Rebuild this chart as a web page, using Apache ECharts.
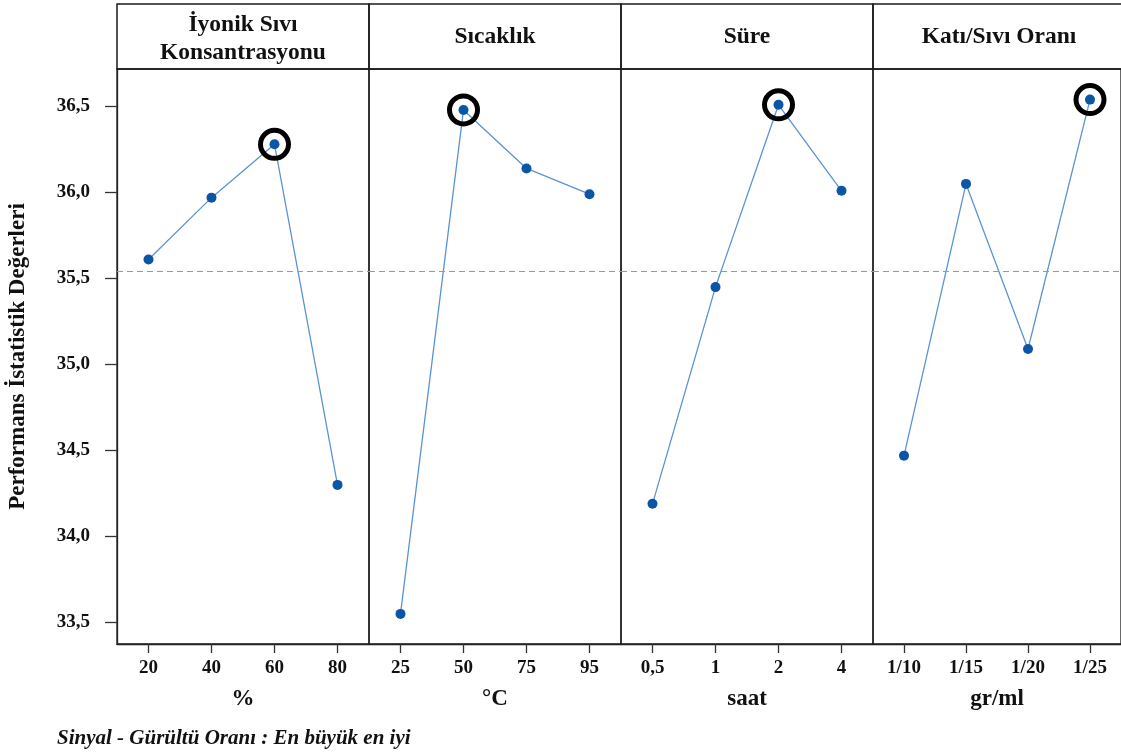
<!DOCTYPE html>
<html><head><meta charset="utf-8">
<style>html,body{margin:0;padding:0;background:#fff}#c{width:1121px;height:754px}</style>
<script src="https://cdn.jsdelivr.net/npm/echarts@6/dist/echarts.min.js"></script>
</head><body><div id="c"></div>
<script>
// ---- data ----
const panelTitles = ['İyonik Sıvı\nKonsantrasyonu', 'Sıcaklık', 'Süre', 'Katı/Sıvı Oranı'];
const axisNames = ['%', '°C', 'saat', 'gr/ml'];
const catIonic = ['20', '40', '60', '80'];
const catTemp = ['25', '50', '75', '95'];
const catTime = ['0,5', '1', '2', '4'];
const catRatio = ['1/10', '1/15', '1/20', '1/25'];
const snIonic = [35.61, 35.97, 36.28, 34.30];
const snTemp = [33.55, 36.48, 36.14, 35.99];
const snTime = [34.19, 35.45, 36.51, 36.01];
const snRatio = [34.47, 36.05, 35.09, 36.54];
const yTicks = [33.5, 34.0, 34.5, 35.0, 35.5, 36.0, 36.5];
const yTickLabels = ['33,5', '34,0', '34,5', '35,0', '35,5', '36,0', '36,5'];
const yName = 'Performans İstatistik Değerleri';
const footnote = 'Sinyal - Gürültü Oranı : En büyük en iyi';

// ---- layout ----
const FONT = '"Liberation Serif", "Times New Roman", serif';
const L0 = 117, PW = 252, TOP = 69, BOT = 644, HTOP = 4;
const Y_MIN = 33.375, Y_MAX = 36.718;
const cats = [catIonic, catTemp, catTime, catRatio];
const vals = [snIonic, snTemp, snTime, snRatio];
const all = vals.flat();
const grandMean = all.reduce((a, b) => a + b, 0) / all.length;

const grids = [], xAxes = [], yAxes = [], series = [], graphics = [];
for (let i = 0; i < 4; i++) {
  const left = L0 + i * PW;
  grids.push({ left: left, top: TOP, width: PW, height: BOT - TOP, show: true,
    borderColor: '#1a1a1a', borderWidth: 1.3, backgroundColor: 'transparent' });
  xAxes.push({
    type: 'category', gridIndex: i, data: cats[i], boundaryGap: true,
    axisLine: { show: true, lineStyle: { color: '#222', width: 1.3 } },
    axisTick: { show: true, alignWithLabel: true, length: 9, lineStyle: { color: '#333', width: 1.3 } },
    axisLabel: { margin: 15, fontFamily: FONT, fontWeight: 'bold', fontSize: 19, color: '#111' },
    splitLine: { show: false },
    name: axisNames[i], nameLocation: 'middle', nameGap: 44,
    nameTextStyle: { fontFamily: FONT, fontWeight: 'bold', fontSize: 23, color: '#111' }
  });
  const first = i === 0;
  yAxes.push({
    type: 'value', gridIndex: i, min: Y_MIN, max: Y_MAX, scale: true,
    axisLine: { show: first, lineStyle: { color: '#222', width: 1.3 } },
    axisTick: { show: first, length: 12, customValues: yTicks, lineStyle: { color: '#333', width: 1.3 } },
    axisLabel: { show: first, margin: 27, customValues: yTicks,
      formatter: v => { const k = yTicks.findIndex(t => Math.abs(t - v) < 1e-6); return k >= 0 ? yTickLabels[k] : ''; },
      fontFamily: FONT, fontWeight: 'bold', fontSize: 19, color: '#111' },
    splitLine: { show: false },
    name: first ? yName : '', nameLocation: 'middle', nameGap: 87,
    nameTextStyle: { fontFamily: FONT, fontWeight: 'bold', fontSize: 23, color: '#111' }
  });
  series.push({
    type: 'line', xAxisIndex: i, yAxisIndex: i, data: vals[i],
    symbol: 'circle', symbolSize: 10, z: 3,
    itemStyle: { color: '#0a55a5' },
    lineStyle: { color: '#5b93d3', width: 1.3 },
    markLine: { silent: true, symbol: 'none', label: { show: false },
      lineStyle: { type: [6, 4], color: '#9a9a9a', width: 1 },
      data: [{ yAxis: grandMean }] },
    animation: false
  });
  const mx = Math.max(...vals[i]);
  const mi = vals[i].indexOf(mx);
  series.push({
    type: 'scatter', xAxisIndex: i, yAxisIndex: i, data: [[mi, mx]],
    symbol: 'circle', symbolSize: 28, z: 4, silent: true,
    itemStyle: { color: 'rgba(0,0,0,0)', borderColor: '#000', borderWidth: 5, opacity: 1 },
    animation: false
  });
  const multi = panelTitles[i].indexOf('\n') >= 0;
  graphics.push({ type: 'rect', shape: { x: left, y: HTOP, width: PW, height: TOP - HTOP },
    style: { fill: 'none', stroke: '#1a1a1a', lineWidth: 1.5 }, z: 10 });
  graphics.push({ type: 'text', x: left + PW / 2, y: (HTOP + TOP) / 2 + (multi ? 2.5 : 0),
    style: { text: panelTitles[i], align: 'center', verticalAlign: 'middle',
      fontFamily: FONT, fontWeight: 'bold', fontSize: 23.5, lineHeight: 28, fill: '#111' }, z: 10 });
}
graphics.push({ type: 'text', x: 57, y: 739,
  style: { text: footnote, align: 'left', verticalAlign: 'middle',
    fontFamily: FONT, fontWeight: 'bold', fontStyle: 'italic', fontSize: 21, fill: '#111' } });

const chart = echarts.init(document.getElementById('c'), null, { renderer: 'canvas' });
chart.setOption({
  backgroundColor: '#fff', animation: false,
  grid: grids, xAxis: xAxes, yAxis: yAxes, series: series, graphic: graphics
});
</script></body></html>
